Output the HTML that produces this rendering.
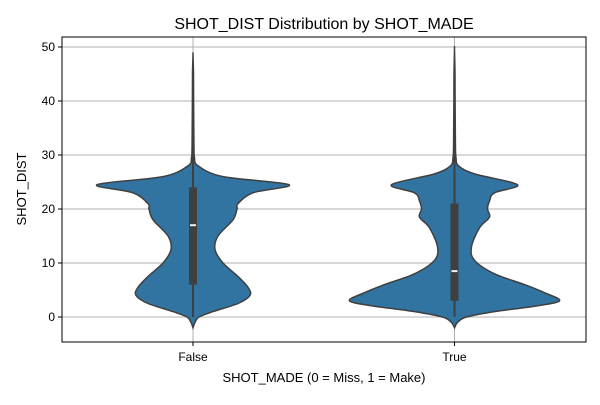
<!DOCTYPE html>
<html><head><meta charset="utf-8"><style>
body{margin:0;background:#fff}
svg text{font-family:"Liberation Sans",sans-serif;fill:#000}
</style></head><body>
<svg id="chart" width="600" height="400" xmlns="http://www.w3.org/2000/svg">
<rect width="600" height="400" fill="#fff"/>
<g id="grid"></g><g id="plot"></g><g id="axes"></g>
</svg>
<script>
const categories=["False","True"];
const yTicks=[0,10,20,30,40,50];
// density profiles: value -> relative half-width (px at unit scale)
const falseVals=[-2,-1,0,1,2.5,4,5.5,7.5,10,12.5,15,18,20,21,23,24.5,26,28,29.5,31,35,40,45,48.5];
const falseDens=[0,2,6,20,45,57,55,45,30,22,25,40,44,45,60,96,30,5,1.5,1,0.8,0.6,0.5,0];
const trueVals=[-2,-1,0,1,2,3,4.5,6,8,10.5,13,16.5,18.5,20,21.5,23,24.5,26.5,28,29.5,31,35,40,45,49.5];
const trueDens=[0,3,12,40,80,105,90,70,40,20,17,25,35,33,35,40,63,20,4,1.5,1,0.8,0.6,0.5,0];
const q1s=[6,3], q3s=[24,21], medians=[17,8.5], whiskLo=[0,0], whiskHi=[47,43.5];
const L=62,R=586,T=37,B=342;
const y=v=>317+( -v)*5.4;
const x=i=>193+i*261.5;
const ns="http://www.w3.org/2000/svg";
function mk(t,a,p){const e=document.createElementNS(ns,t);for(const k in a)e.setAttribute(k,a[k]);p.appendChild(e);return e;}
const grid=document.getElementById('grid'),plot=document.getElementById('plot'),axes=document.getElementById('axes');
yTicks.forEach(v=>{
 const g=mk('line',{x1:L,x2:R,y1:y(v),y2:y(v),stroke:'#b0b0b0','stroke-width':1},grid);
 
 
 mk('line',{x1:L-4,x2:L,y1:y(v),y2:y(v),stroke:'#000'},axes);
 const t=mk('text',{x:L-7,y:y(v)+4,'text-anchor':'end','font-size':12},axes);t.textContent=v;
 
 
});
categories.forEach((c,i)=>{
 const g=mk('line',{x1:x(i),x2:x(i),y1:T,y2:B,stroke:'#b0b0b0'},grid);
 
 
 mk('line',{x1:x(i),x2:x(i),y1:B,y2:B+4,stroke:'#000'},axes);
 const t=mk('text',{x:x(i),y:B+19,'text-anchor':'middle','font-size':12},axes);t.textContent=c;
 
 
});
function pathFor(vals,dens,cx){
 const pts=vals.map((v,k)=>[cx+dens[k],y(v)]);
 const left=vals.map((v,k)=>[cx-dens[k],y(v)]).reverse();
 const all=pts.concat(left);
 function cr(p){let d='M'+p[0][0]+','+p[0][1];for(let k=0;k<p.length-1;k++){const p0=p[Math.max(k-1,0)],p1=p[k],p2=p[k+1],p3=p[Math.min(k+2,p.length-1)];
  d+=` C${p1[0]+(p2[0]-p0[0])/6},${p1[1]+(p2[1]-p0[1])/6} ${p2[0]-(p3[0]-p1[0])/6},${p2[1]-(p3[1]-p1[1])/6} ${p2[0]},${p2[1]}`;}return d;}
 return cr(all)+'Z';
}
[[falseVals,falseDens],[trueVals,trueDens]].forEach(([v,d],i)=>{
 const p=mk('path',{d:pathFor(v,d,x(i)),fill:'#3274a1',stroke:'#3f3f3f','stroke-width':1.5},plot);
 
 
 const w=mk('line',{x1:x(i),x2:x(i),y1:y(whiskLo[i]),y2:y(whiskHi[i]),stroke:'#3f3f3f','stroke-width':2},plot);
 
 
 const b=mk('rect',{x:x(i)-4,y:y(q3s[i]),width:8,height:y(q1s[i])-y(q3s[i]),fill:'#3f3f3f'},plot);
 
 
 const m=mk('line',{x1:x(i)-3,x2:x(i)+3,y1:y(medians[i]),y2:y(medians[i]),stroke:'#f0f0f0','stroke-width':2},plot);
 
 
});
const f=mk('rect',{x:L,y:T,width:R-L,height:B-T,fill:'none',stroke:'#000','stroke-width':1},axes);


const tt=mk('text',{x:324,y:29,'text-anchor':'middle','font-size':16},axes);tt.textContent='SHOT_DIST Distribution by SHOT_MADE';


const xl=mk('text',{x:324,y:382,'text-anchor':'middle','font-size':13},axes);xl.textContent='SHOT_MADE (0 = Miss, 1 = Make)';


const yl=mk('text',{x:0,y:0,'text-anchor':'middle','font-size':13,transform:'translate(26,189) rotate(-90)'},axes);yl.textContent='SHOT_DIST';


</script>
</body></html>
